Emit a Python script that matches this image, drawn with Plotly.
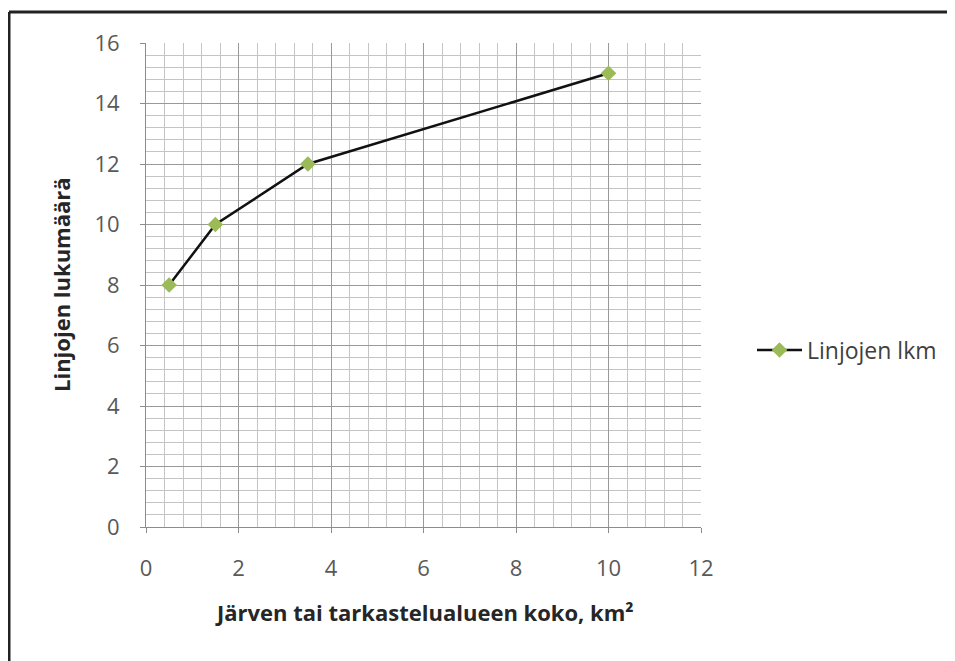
import plotly.graph_objects as go

x_values = [0.5, 1.5, 3.5, 10]
y_values = [8, 10, 12, 15]
series_name = "Linjojen lkm"
x_title = "Järven tai tarkastelualueen koko, km²"
y_title = "Linjojen lukumäärä"

# page body has an 8px margin; work in screen pixels and convert
OFF = 8
W, H = 955 - OFF, 661 - OFF


def PX(px):
    return (px - OFF) / W


def PY(py):
    return 1 - (py - OFF) / H


x0px, x1px = 146, 701
ytop, ybot = 43, 527

font_family = "'Open Sans', sans-serif"

fig = go.Figure()
fig.add_trace(go.Scatter(
    x=x_values, y=y_values, mode="lines+markers", name=series_name,
    line=dict(color="#111111", width=2.5),
    marker=dict(symbol="diamond", size=12, color="#9BBB59"),
))

axis_common = dict(
    dtick=2, tick0=0,
    showgrid=True, gridcolor="#999999", gridwidth=1,
    minor=dict(dtick=0.4, showgrid=True, gridcolor="#c4c4c4", gridwidth=1),
    showline=True, linecolor="#8c8c8c", linewidth=1,
    ticks="outside", ticklen=5, tickcolor="#8c8c8c",
    zeroline=False, tickfont=dict(size=22, color="#595959"),
    automargin=False, fixedrange=True,
)

fig.update_layout(
    width=W, height=H,
    margin=dict(l=0, r=0, t=0, b=0, pad=0, autoexpand=False),
    paper_bgcolor="white", plot_bgcolor="white",
    font=dict(family=font_family, size=16, color="#595959"),
    showlegend=True,
    legend=dict(x=PX(752), y=PY(350), xanchor="left", yanchor="middle",
                itemwidth=45,
                font=dict(size=23, color="#404040"), bgcolor="rgba(0,0,0,0)"),
    xaxis=dict(domain=[PX(x0px), PX(x1px)], range=[0, 12], ticklabelstandoff=17, **axis_common),
    yaxis=dict(domain=[PY(ybot), PY(ytop)], range=[0, 16], ticklabelstandoff=16, **axis_common),
    annotations=[
        dict(text="<b>" + x_title + "</b>", xref="paper", yref="paper",
             x=PX(424), y=PY(612), xanchor="center", yanchor="middle",
             showarrow=False, font=dict(size=22, color="#262626")),
        dict(text="<b>" + y_title + "</b>", xref="paper", yref="paper",
             x=PX(61), y=PY(285), xanchor="center", yanchor="middle", textangle=-90,
             showarrow=False, font=dict(size=22, color="#262626")),
    ],
    shapes=[
        dict(type="line", xref="paper", yref="paper", x0=PX(9), x1=PX(9), y0=0, y1=PY(12),
             line=dict(color="#222222", width=3)),
        dict(type="line", xref="paper", yref="paper", x0=PX(9), x1=1, y0=PY(12), y1=PY(12),
             line=dict(color="#222222", width=3)),
    ],
)

fig.write_html("out.html")
